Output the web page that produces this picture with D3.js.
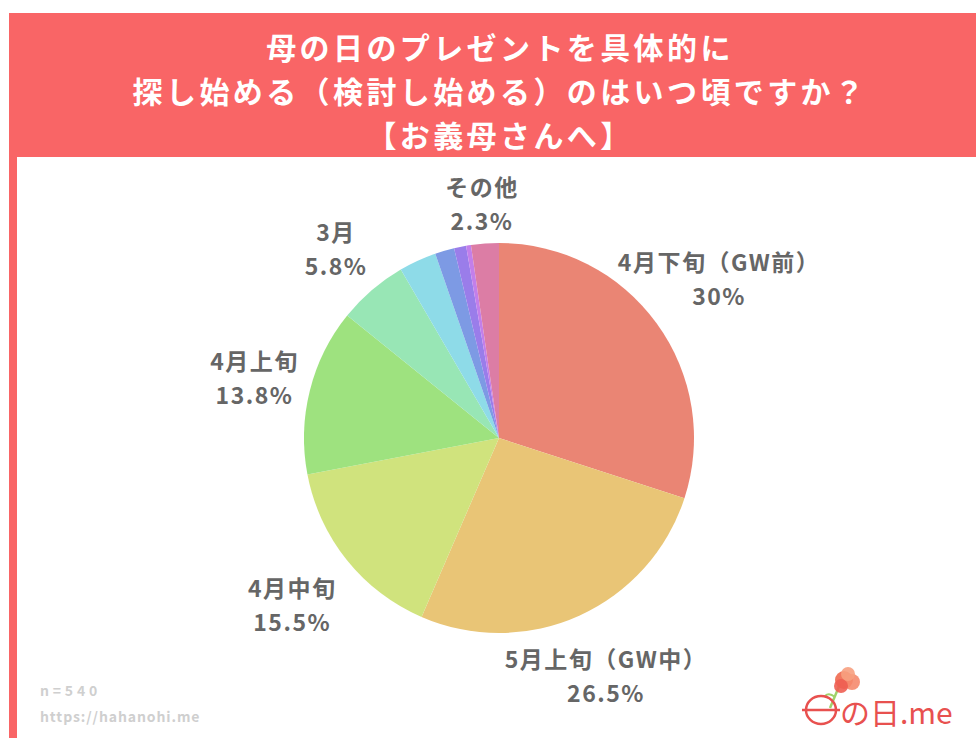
<!DOCTYPE html>
<html>
<head>
<meta charset="utf-8">
<script src="https://cdn.jsdelivr.net/npm/d3@7"></script>
<style>
  body { margin: 0; background: #fff; }
  svg text { font-family: "Noto Sans CJK JP", "Noto Sans", sans-serif; }
</style>
</head>
<body>
<div id="chart"></div>
<script>
var width = 976, height = 738;

// data
var categories = ["4月下旬（GW前）", "5月上旬（GW中）", "4月中旬", "4月上旬", "3月",
                  "2月", "1月", "前年中", "その他の時期", "その他"];
var values = [30, 26.5, 15.5, 13.8, 5.8, 3.1, 1.6, 1.0, 0.4, 2.3];
var valueLabels = ["30%", "26.5%", "15.5%", "13.8%", "5.8%", null, null, null, null, "2.3%"];
var colors = ["#ea8574", "#e9c576", "#d0e37d", "#9ee27f", "#98e6b5",
              "#8edbe8", "#7d9ae4", "#9a7dea", "#c37fea", "#dc7da5"];
var titleLines = ["母の日のプレゼントを具体的に", "探し始める（検討し始める）のはいつ頃ですか？", "【お義母さんへ】"];

// label distance from centre, per slice (layout only)
var labelRadius = [272, 260, 265, 252, 250, 0, 0, 0, 0, 236];

var svg = d3.select("#chart")
  .append("svg")
  .attr("width", width)
  .attr("height", height);

// frame
var red = "#f96566";
svg.append("rect").attr("x", 9).attr("y", 13).attr("width", width - 9).attr("height", 144).attr("fill", red);
svg.append("rect").attr("x", 9).attr("y", 13).attr("width", 8).attr("height", height - 13).attr("fill", red);

svg.selectAll(".title")
  .data(titleLines)
  .enter()
  .append("text")
  .attr("class", "title")
  .attr("x", 500)
  .attr("y", (d, i) => 46 + i * 44)
  .attr("text-anchor", "middle")
  .attr("dominant-baseline", "central")
  .attr("fill", "#fff")
  .attr("font-size", 30)
  .attr("font-weight", 700)
  .attr("letter-spacing", 3.4)
  .text(d => d);

// pie
var cx = 499, cy = 438, radius = 195;
var pie = d3.pie().sort(null).value(d => d);
var arcs = pie(values);
var arc = d3.arc().innerRadius(0).outerRadius(radius);

var g = svg.append("g").attr("transform", "translate(" + cx + "," + cy + ")");

g.selectAll("path")
  .data(arcs)
  .enter()
  .append("path")
  .attr("d", arc)
  .attr("fill", (d, i) => colors[i]);

var labels = g.selectAll(".label")
  .data(arcs.filter((d, i) => valueLabels[i]))
  .enter()
  .append("text")
  .attr("class", "label")
  .attr("transform", d => {
    var r = labelRadius[d.index];
    var p = d3.arc().innerRadius(r).outerRadius(r).centroid(d);
    return "translate(" + p + ")";
  })
  .attr("text-anchor", "middle")
  .attr("fill", "#666")
  .attr("font-size", 23)
  .attr("font-weight", 700)
  .attr("letter-spacing", 1.5);

labels.append("tspan")
  .attr("x", 0)
  .attr("y", -17)
  .attr("dominant-baseline", "central")
  .text(d => categories[d.index]);
labels.append("tspan")
  .attr("x", 0)
  .attr("y", 17)
  .attr("dominant-baseline", "central")
  .text(d => valueLabels[d.index]);

// footer
svg.append("text").attr("x", 40).attr("y", 690)
  .attr("dominant-baseline", "central")
  .attr("fill", "#cfcfcf").attr("font-size", 14).attr("font-weight", 700)
  .attr("letter-spacing", 3.8)
  .text("n=540");
svg.append("text").attr("x", 40).attr("y", 716)
  .attr("dominant-baseline", "central")
  .attr("fill", "#cfcfcf").attr("font-size", 14).attr("font-weight", 700)
  .attr("letter-spacing", 0.9)
  .text("https://hahanohi.me");

// logo
var logo = svg.append("g").attr("transform", "translate(800,668)");
var logoRed = "#e8514f";
logo.append("path")
  .attr("d", "M30,40 L40,16")
  .attr("stroke", "#9fd36b").attr("stroke-width", 2.5).attr("fill", "none");
logo.append("path")
  .attr("d", "M35,29 Q29,24 25,28")
  .attr("stroke", "#9fd36b").attr("stroke-width", 2).attr("fill", "none");
[[44, 12, 9, "#f0694f"], [52, 14, 8, "#f58a6e"], [41, 18, 7, "#ee5e52"], [48, 6, 7, "#f7a07f"]].forEach(function (c) {
  logo.append("circle").attr("cx", c[0]).attr("cy", c[1]).attr("r", c[2]).attr("fill", c[3]).attr("opacity", 0.9);
});
logo.append("ellipse").attr("cx", 21).attr("cy", 42).attr("rx", 15).attr("ry", 14)
  .attr("fill", "none").attr("stroke", logoRed).attr("stroke-width", 2.5);
logo.append("line").attr("x1", 2).attr("x2", 40).attr("y1", 42).attr("y2", 42)
  .attr("stroke", logoRed).attr("stroke-width", 2.5);
logo.append("text").attr("x", 40).attr("y", 43)
  .attr("dominant-baseline", "central")
  .attr("fill", logoRed).attr("font-size", 30)
  .text("の日.me");
</script>
</body>
</html>
